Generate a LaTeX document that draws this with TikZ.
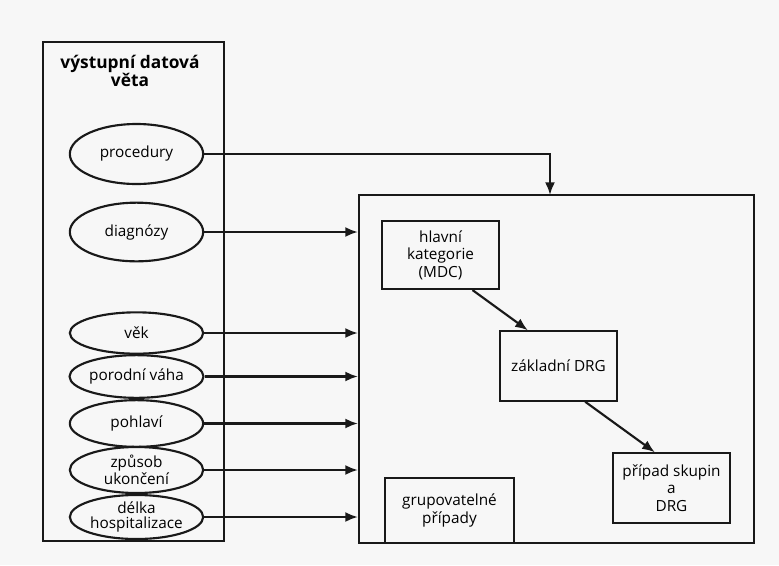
\documentclass[tikz,border=0pt]{standalone}
\usepackage{fontspec}
\setmainfont{Open Sans}
\usetikzlibrary{arrows.meta,shapes.geometric}

\tikzset{
  pic/.style={x=0.75pt,y=-0.75pt},
  line/.style={line width=1.6pt,draw=black!90},
  arr/.style={line,-{Latex[length=9.5pt,width=7.5pt]}},
  frame/.style={line,rectangle,inner sep=0pt},
  item/.style={line,ellipse,minimum width=100pt,inner sep=0pt,align=center,
    font=\fontsize{11.5}{11.5}\selectfont},
  stepbox/.style={line,rectangle,minimum width=87.75pt,minimum height=52pt,
    inner sep=0pt,align=center,font=\fontsize{11.5}{13}\selectfont},
}

\begin{document}
\begin{tikzpicture}[pic]
  \useasboundingbox (0,0) rectangle (779,565);
  \fill[black!3] (0,0) rectangle (779,565);

  % output data record with its items
  \node[frame,minimum width=135.75pt,minimum height=374.25pt] (rec) at (133.5,291.5) {};
  \node[font=\bfseries\fontsize{13}{14}\selectfont,align=center] (title) at (130,71)
    {výstupní datová\\věta};

  \node[item,minimum height=45pt] (proc) at (136.5,154) {procedury};
  \node[item,minimum height=44pt] (diag) at (136.5,232) {diagnózy};
  \node[item,minimum height=31pt] (vek)  at (136.5,333) {věk};
  \node[item,minimum height=32pt] (vaha) at (136.5,376.5) {porodní váha};
  \node[item,minimum height=35pt] (pohl) at (136.5,423.5) {pohlaví};
  \node[item,minimum height=34.5pt] (zpus) at (136.5,470) {způsob\\ukončení};
  \node[item,minimum height=33pt] (delka) at (136.5,517) {délka\\hospitalizace};

  % grouper
  \node[frame,minimum width=296.25pt,minimum height=261pt] (grp) at (556.5,369) {};
  \node[stepbox,minimum height=51pt] (mdc) at (440.5,255) {hlavní\\kategorie\\(MDC)};
  \node[stepbox] (zdrg) at (558.5,366) {základní DRG};
  \node[stepbox] (drg) at (671.5,488) {případ skupin\\a\\DRG};
  \node[stepbox,minimum width=96.75pt,minimum height=48.75pt] (grup) at (449.5,510.5)
    {grupovatelné\\případy};

  % inputs into the grouper
  \coordinate (drop) at (550,195);
  \draw[arr] (proc.east) -| (drop);
  \foreach \n in {diag,vek,vaha,pohl,zpus,delka}
    \draw[arr] (\n.east) -- (\n.east -| grp.west);

  % flow inside the grouper
  \draw[arr] ([xshift=24pt]mdc.south) -- ([xshift=-23pt]zdrg.north);
  \draw[arr] ([xshift=20pt]zdrg.south) -- ([xshift=-12.5pt]drg.north);
\end{tikzpicture}
\end{document}
